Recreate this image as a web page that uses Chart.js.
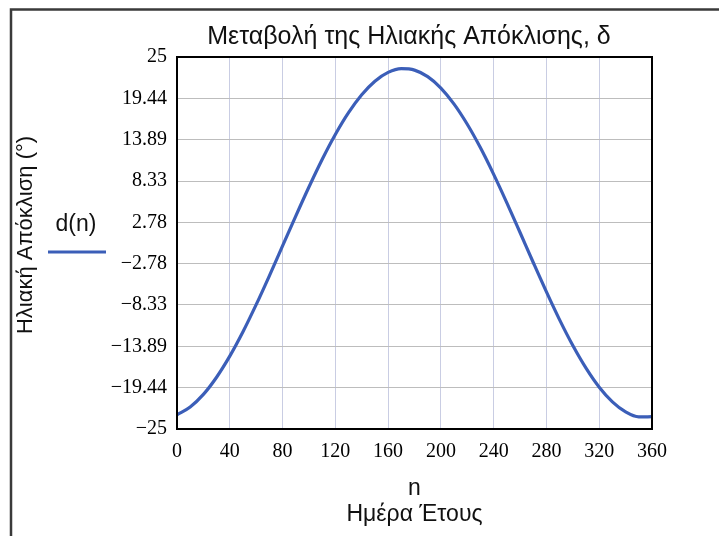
<!DOCTYPE html>
<html>
<head>
<meta charset="utf-8">
<script src="https://cdn.jsdelivr.net/npm/chart.js@4"></script>
<style>
html,body{margin:0;padding:0;background:#fff;}
canvas{display:block;}
</style>
</head>
<body>
<canvas id="c" width="719" height="536"></canvas>
<script>
// Data
const days = [0,10,20,30,40,50,60,70,80,90,100,110,120,130,140,150,160,170,180,190,200,210,220,230,240,250,260,270,280,290,300,310,320,330,340,350,360];
const declination = [-23.09,-22.04,-20.35,-18.04,-15.21,-11.93,-8.29,-4.41,-0.40,3.62,7.53,11.23,14.59,17.52,19.93,21.75,22.93,23.43,23.24,22.36,20.83,18.67,15.96,12.79,9.23,5.40,1.41,-2.62,-6.57,-10.33,-13.78,-16.82,-19.38,-21.35,-22.70,-23.37,-23.35];
const yTicks = [-25,-19.44,-13.89,-8.33,-2.78,2.78,8.33,13.89,19.44,25];
const xTicks = [0,40,80,120,160,200,240,280,320,360];
const titleText = 'Μεταβολή της Ηλιακής Απόκλισης, δ';
const yTitle = 'Ηλιακή Απόκλιση (°)';
const xTitle = ['n','Ημέρα Έτους'];
const seriesName = 'd(n)';

const lineColor = '#3b5eb8';

const decor = {
  id: 'decor',
  beforeDraw(chart){
    const ctx = chart.ctx;
    ctx.save();
    ctx.fillStyle = '#fff';
    ctx.fillRect(0,0,chart.width,chart.height);
    ctx.restore();
  },
  afterDraw(chart){
    const ctx = chart.ctx;
    const a = chart.chartArea;
    ctx.save();
    // plot box
    ctx.strokeStyle = '#000';
    ctx.lineWidth = 2;
    ctx.strokeRect(a.left, a.top, a.right - a.left, a.bottom - a.top);
    // outer frame
    ctx.strokeStyle = '#3a3a3a';
    ctx.lineWidth = 2.5;
    ctx.beginPath();
    ctx.moveTo(11, chart.height);
    ctx.lineTo(11, 9.5);
    ctx.lineTo(chart.width, 9.5);
    ctx.stroke();
    // title
    ctx.fillStyle = '#111';
    ctx.font = '25px "Liberation Sans", Arial, sans-serif';
    ctx.textAlign = 'center';
    ctx.textBaseline = 'alphabetic';
    ctx.fillText(titleText, 409, 44);
    // y axis title
    ctx.save();
    ctx.translate(26, 235);
    ctx.rotate(-Math.PI/2);
    ctx.font = '22px "Liberation Sans", Arial, sans-serif';
    ctx.textBaseline = 'middle';
    ctx.fillText(yTitle, 0, 0);
    ctx.restore();
    // legend
    ctx.font = '23px "Liberation Sans", Arial, sans-serif';
    ctx.fillText(seriesName, 76, 231);
    ctx.strokeStyle = lineColor;
    ctx.lineWidth = 3;
    ctx.beginPath();
    ctx.moveTo(48, 252);
    ctx.lineTo(106, 252);
    ctx.stroke();
    ctx.restore();
  }
};

const fmt = v => {
  const s = Math.abs(v).toString();
  return v < 0 ? '\u2212' + s : s;
};

new Chart(document.getElementById('c'), {
  type: 'line',
  data: {
    datasets: [{
      label: seriesName,
      data: days.map((d,i) => ({x: d, y: declination[i]})),
      borderColor: lineColor,
      borderWidth: 3.2,
      pointRadius: 0,
      fill: false,
      cubicInterpolationMode: 'monotone'
    }]
  },
  options: {
    responsive: false,
    devicePixelRatio: 1,
    animation: false,
    layout: { padding: { top: 57, right: 67, left: 0, bottom: 0 } },
    plugins: {
      legend: { display: false },
      title: { display: false },
      tooltip: { enabled: false }
    },
    scales: {
      x: {
        type: 'linear',
        min: 0, max: 360,
        afterBuildTicks(s){ s.ticks = xTicks.map(v => ({value: v})); },
        afterFit(s){ s.height = 536 - 429; },
        ticks: {
          color: '#000',
          padding: 11,
          maxRotation: 0,
          font: { family: '"Liberation Serif", "Times New Roman", serif', size: 20 }
        },
        grid: { color: '#c9cde3', lineWidth: 1, drawTicks: false },
        border: { display: false },
        title: {
          display: true,
          text: xTitle,
          color: '#111',
          font: { family: '"Liberation Sans", Arial, sans-serif', size: 23, lineHeight: 1.15 },
          padding: { top: 0, bottom: 8 }
        }
      },
      y: {
        type: 'linear',
        min: -25, max: 25,
        afterBuildTicks(s){ s.ticks = yTicks.map(v => ({value: v})); },
        afterFit(s){ s.width = 177; },
        ticks: {
          color: '#000',
          padding: 10,
          callback: v => fmt(v),
          font: { family: '"Liberation Serif", "Times New Roman", serif', size: 20 }
        },
        grid: { color: '#bdbdbd', lineWidth: 1, drawTicks: false },
        border: { display: false },
        title: { display: false }
      }
    }
  },
  plugins: [decor]
});
</script>
</body>
</html>
